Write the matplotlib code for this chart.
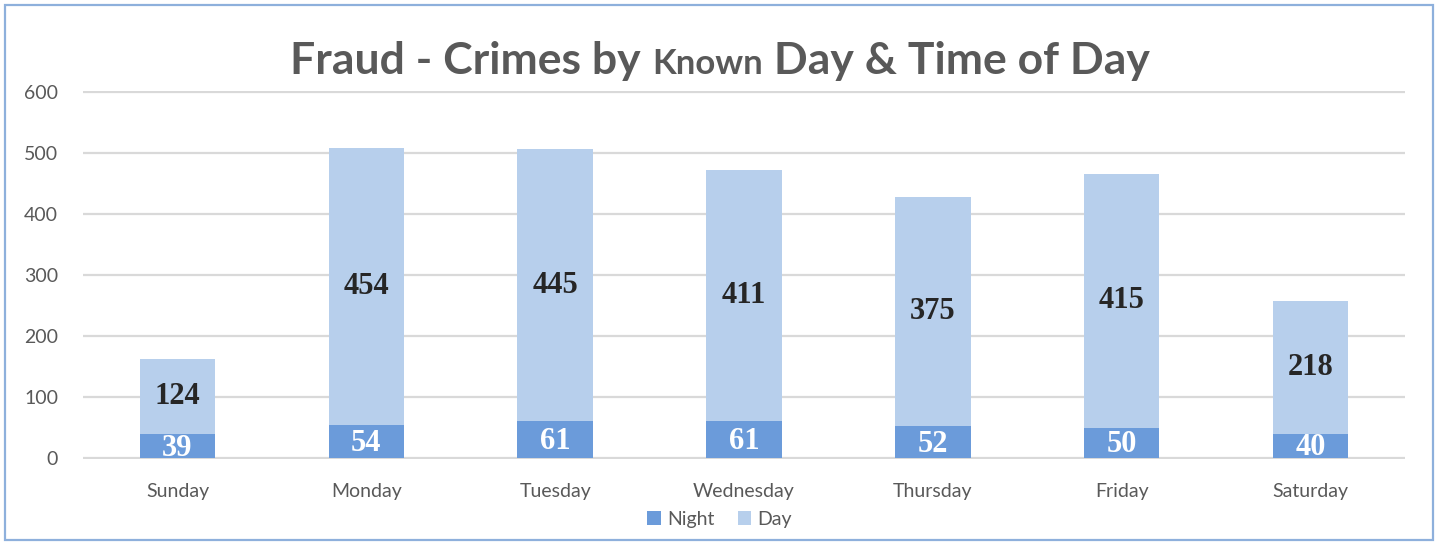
import matplotlib
matplotlib.use("Agg")
import matplotlib.pyplot as plt
from matplotlib.patches import Rectangle
import numpy as np

days = ["Sunday", "Monday", "Tuesday", "Wednesday", "Thursday", "Friday", "Saturday"]
night = [39, 54, 61, 61, 52, 50, 40]
day = [124, 454, 445, 411, 375, 415, 218]

night_color = "#6b9bda"
day_color = "#b7cfec"
gray = "#595959"

fig = plt.figure(figsize=(14.39, 5.45), dpi=100)
ax = fig.add_axes([83 / 1439, 1 - 459 / 545, (1405 - 83) / 1439, (459 - 91) / 545])

x = np.arange(len(days))
w = 0.40
b1 = ax.bar(x, night, w, color=night_color, label="Night", zorder=3)
b2 = ax.bar(x, day, w, bottom=night, color=day_color, label="Day", zorder=3)

for i in range(len(days)):
    ax.text(x[i], night[i] / 2 - 3, str(night[i]), ha="center", va="center",
            family="Liberation Serif", fontweight="bold", fontsize=22, color="white", zorder=4)
    ax.text(x[i], night[i] + day[i] / 2, str(day[i]), ha="center", va="center",
            family="Liberation Serif", fontweight="bold", fontsize=22, color="#262626", zorder=4)

ax.set_xlim(-0.5, len(days) - 0.5)
ax.set_ylim(-1.5, 601.5)
ax.set_yticks(range(0, 601, 100))
ax.set_xticks(x)
ax.set_xticklabels(days)
ax.yaxis.grid(True, color="#d9d9d9", linewidth=1.6, zorder=0)
ax.set_axisbelow(True)
for s in ax.spines.values():
    s.set_visible(False)
ax.tick_params(axis="both", length=0, labelsize=14, labelcolor=gray)
ax.tick_params(axis="y", pad=18)
ax.tick_params(axis="x", pad=17)
for lab in ax.get_xticklabels() + ax.get_yticklabels():
    lab.set_family("Lato")

leg = fig.legend(handles=[b1, b2], labels=["Night", "Day"], loc="center",
                 bbox_to_anchor=(0.5, 1 - 519 / 545), ncol=2, frameon=False,
                 prop={"family": "Lato", "size": 14}, handlelength=0.7, handleheight=0.7,
                 handletextpad=0.3, columnspacing=1.2)
for t in leg.get_texts():
    t.set_color(gray)

# title with a smaller "Known"
pieces = [("Fraud - Crimes by ", 32), ("Known", 25), (" Day & Time of Day", 32)]
renderer = fig.canvas.get_renderer()
texts = []
widths = []
for s, sz in pieces:
    t = fig.text(0, 1 - 74 / 545, s, family="Lato", fontweight="bold", fontsize=sz,
                 color=gray, ha="left", va="baseline")
    bb = t.get_window_extent(renderer=renderer)
    texts.append(t)
    widths.append(bb.width)
xpos = 720 - sum(widths) / 2
for t, wd in zip(texts, widths):
    t.set_x(xpos / 1439)
    xpos += wd

fig.patches.append(Rectangle((5 / 1439, 5 / 545), 1428 / 1439, 535 / 545,
                             transform=fig.transFigure, fill=False,
                             edgecolor="#8eb0dc", linewidth=1.6))

fig.savefig("out.png", dpi=100)
